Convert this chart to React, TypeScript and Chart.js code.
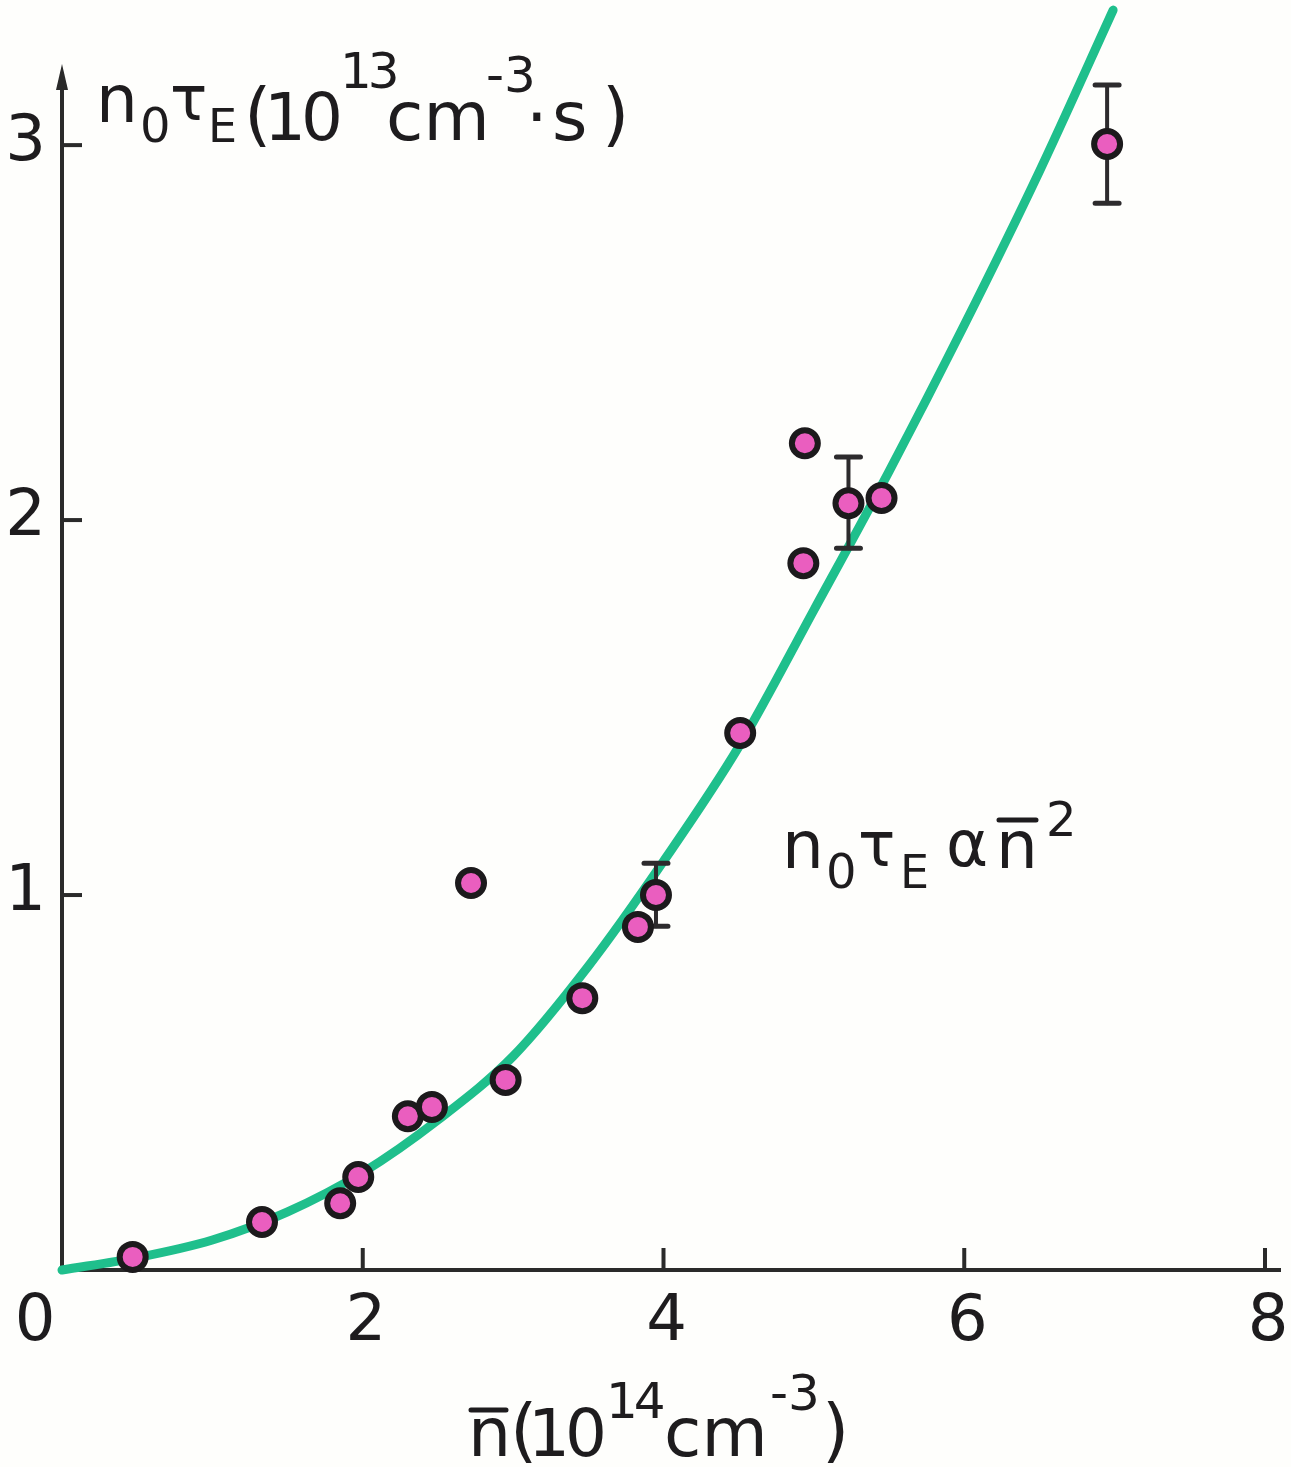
import React, { useEffect, useRef } from "react";
import { Chart, registerables } from "chart.js";

Chart.register(...registerables);

// Measured points: mean density n̄ (10^14 cm^-3) vs n0·τE (10^13 cm^-3·s)
const densityN = [0.47, 1.33, 1.85, 1.97, 2.30, 2.46, 2.72, 2.95, 3.46, 3.83, 3.95, 4.51, 4.93, 4.94, 5.23, 5.45, 6.95];
const confinement = [0.035, 0.128, 0.178, 0.248, 0.41, 0.435, 1.032, 0.507, 0.725, 0.915, 1.0, 1.432, 1.885, 2.205, 2.045, 2.059, 3.003];

// Error bars
const errorN = [3.95, 5.23, 6.95];
const errorLow = [0.917, 1.925, 2.845];
const errorHigh = [1.085, 2.168, 3.16];

// Hand-drawn fit curve  n0τE ∝ n̄²
const fitN = [0, 0.5, 1.0, 1.5, 2.0, 2.5, 3.0, 3.5, 4.0, 4.5, 5.0, 5.5, 6.0, 6.5, 6.99];
const fitY = [0, 0.033, 0.08, 0.155, 0.26, 0.40, 0.57, 0.81, 1.09, 1.395, 1.76, 2.13, 2.52, 2.93, 3.36];

const xTickValues = [0, 2, 4, 6, 8];
const yTickValues = [1, 2, 3];

const FONT = '"DejaVu Sans", "Liberation Sans", sans-serif';
const INK = "#1e1c1e";

type Part = { t: string; x: number; y: number; size: number; ls?: number };

function drawParts(ctx: CanvasRenderingContext2D, parts: Part[]) {
  ctx.fillStyle = INK;
  ctx.textAlign = "left";
  ctx.textBaseline = "alphabetic";
  for (const p of parts) {
    ctx.font = `${p.size}px ${FONT}`;
    (ctx as any).letterSpacing = `${p.ls ?? 0}px`;
    ctx.fillText(p.t, p.x, p.y);
  }
  (ctx as any).letterSpacing = "0px";
}

const decor = {
  id: "decor",
  beforeDraw(chart: any) {
    const ctx = chart.ctx as CanvasRenderingContext2D;
    ctx.save();
    ctx.fillStyle = "#fefefc";
    ctx.fillRect(0, 0, chart.width, chart.height);
    ctx.restore();
  },
  beforeDatasetsDraw(chart: any) {
    const ctx = chart.ctx as CanvasRenderingContext2D;
    const xs = chart.scales.x;
    const ys = chart.scales.y;
    const x0 = xs.getPixelForValue(0);
    const y0 = ys.getPixelForValue(0);
    ctx.save();
    ctx.strokeStyle = "#2a2a2a";
    ctx.lineWidth = 4;
    ctx.lineCap = "butt";
    // x axis
    ctx.beginPath();
    ctx.moveTo(x0 - 2, y0);
    ctx.lineTo(xs.getPixelForValue(8) + 16, y0);
    ctx.stroke();
    // y axis with arrow
    const tipY = chart.chartArea.top + 64;
    ctx.beginPath();
    ctx.moveTo(x0, y0 + 2);
    ctx.lineTo(x0, tipY + 14);
    ctx.stroke();
    ctx.fillStyle = "#2a2a2a";
    ctx.beginPath();
    ctx.moveTo(x0, tipY);
    ctx.lineTo(x0 - 6, tipY + 26);
    ctx.lineTo(x0 + 6, tipY + 26);
    ctx.closePath();
    ctx.fill();
    // ticks (drawn inward)
    for (const v of xTickValues) {
      if (v === 0) continue;
      const px = xs.getPixelForValue(v);
      ctx.beginPath();
      ctx.moveTo(px, y0);
      ctx.lineTo(px, y0 - 22);
      ctx.stroke();
    }
    for (const v of yTickValues) {
      const py = ys.getPixelForValue(v);
      ctx.beginPath();
      ctx.moveTo(x0, py);
      ctx.lineTo(x0 + 20, py);
      ctx.stroke();
    }
    ctx.restore();
  },
  afterDatasetDraw(chart: any, args: any) {
    if (args.index !== 1) return;
    const ctx = chart.ctx as CanvasRenderingContext2D;
    const xs = chart.scales.x;
    const ys = chart.scales.y;
    ctx.save();
    ctx.strokeStyle = "#2d2b2d";
    ctx.lineCap = "round";
    errorN.forEach((n, i) => {
      const px = xs.getPixelForValue(n);
      const lo = ys.getPixelForValue(errorLow[i]);
      const hi = ys.getPixelForValue(errorHigh[i]);
      ctx.lineWidth = 4;
      ctx.beginPath();
      ctx.moveTo(px, lo);
      ctx.lineTo(px, hi);
      ctx.stroke();
      ctx.lineWidth = 5;
      ctx.beginPath();
      ctx.moveTo(px - 12, lo);
      ctx.lineTo(px + 12, lo);
      ctx.moveTo(px - 12, hi);
      ctx.lineTo(px + 12, hi);
      ctx.stroke();
    });
    ctx.restore();
  },
  afterDraw(chart: any) {
    const ctx = chart.ctx as CanvasRenderingContext2D;
    const xs = chart.scales.x;
    const ys = chart.scales.y;
    const x0 = xs.getPixelForValue(0);
    const y0 = ys.getPixelForValue(0);
    ctx.save();
    ctx.fillStyle = INK;
    // tick labels
    ctx.font = `64px ${FONT}`;
    ctx.textBaseline = "alphabetic";
    ctx.textAlign = "center";
    for (const v of xTickValues) {
      const px = v === 0 ? x0 - 27 : xs.getPixelForValue(v) + 3;
      ctx.fillText(String(v), px, y0 + 70);
    }
    ctx.textAlign = "right";
    ctx.textBaseline = "middle";
    for (const v of yTickValues) {
      ctx.fillText(String(v), x0 - 16, ys.getPixelForValue(v) - 2);
    }
    // y-axis title  n0τE (10^13 cm^-3 · s)
    drawParts(ctx, [
      { t: "n", x: 96, y: 122, size: 66 },
      { t: "0", x: 140, y: 142, size: 48 },
      { t: "τ", x: 170, y: 120, size: 62 },
      { t: "E", x: 208, y: 142, size: 46 },
      { t: "(", x: 244, y: 138, size: 70 },
      { t: "10", x: 264, y: 140, size: 66, ls: -5 },
      { t: "13", x: 340, y: 88, size: 50, ls: -4 },
      { t: "cm", x: 386, y: 140, size: 68 },
      { t: "-3", x: 486, y: 92, size: 50 },
      { t: "·", x: 526, y: 140, size: 68 },
      { t: "s", x: 552, y: 140, size: 68 },
      { t: ")", x: 602, y: 138, size: 70 },
    ]);
    // x-axis title  n̄ (10^14 cm^-3)
    drawParts(ctx, [
      { t: "n", x: 468, y: 1456, size: 68 },
      { t: "(", x: 510, y: 1454, size: 70 },
      { t: "10", x: 528, y: 1456, size: 66, ls: -5 },
      { t: "14", x: 606, y: 1418, size: 50, ls: -4 },
      { t: "cm", x: 664, y: 1456, size: 68 },
      { t: "-3", x: 770, y: 1410, size: 50 },
      { t: ")", x: 822, y: 1454, size: 70 },
    ]);
    // annotation  n0τE α n̄²
    drawParts(ctx, [
      { t: "n", x: 782, y: 868, size: 66 },
      { t: "0", x: 826, y: 888, size: 48 },
      { t: "τ", x: 858, y: 866, size: 62 },
      { t: "E", x: 900, y: 888, size: 46 },
      { t: "α", x: 946, y: 866, size: 64 },
      { t: "n", x: 996, y: 868, size: 66 },
      { t: "2", x: 1046, y: 836, size: 48 },
    ]);
    ctx.strokeStyle = INK;
    ctx.lineWidth = 5;
    ctx.lineCap = "round";
    ctx.beginPath();
    ctx.moveTo(471, 1410);
    ctx.lineTo(506, 1410);
    ctx.moveTo(999, 820);
    ctx.lineTo(1036, 820);
    ctx.stroke();
    ctx.restore();
  },
};

export default function App() {
  const ref = useRef<HTMLCanvasElement | null>(null);
  useEffect(() => {
    if (!ref.current) return;
    const chart = new Chart(ref.current, {
      type: "scatter",
      data: {
        datasets: [
          {
            label: "measured",
            data: densityN.map((x, i) => ({ x, y: confinement[i] })),
            pointRadius: 13,
            pointBorderWidth: 6,
            pointBackgroundColor: "#ea5ebf",
            pointBorderColor: "#1c1a1c",
            showLine: false,
            clip: false,
          } as any,
          {
            label: "fit",
            data: fitN.map((x, i) => ({ x, y: fitY[i] })),
            showLine: true,
            pointRadius: 0,
            borderColor: "#1fbf8c",
            borderWidth: 9,
            borderCapStyle: "round",
            cubicInterpolationMode: "monotone",
            clip: false,
          } as any,
        ],
      },
      options: {
        animation: false,
        responsive: false,
        maintainAspectRatio: false,
        events: [],
        layout: { autoPadding: false, padding: { left: 62, right: 26, top: 0, bottom: 197 } },
        plugins: { legend: { display: false }, tooltip: { enabled: false } },
        scales: {
          x: { type: "linear", min: 0, max: 8, display: false },
          y: { type: "linear", min: 0, max: 3.387, display: false },
        },
      },
      plugins: [decor],
    });
    return () => chart.destroy();
  }, []);
  return (
    <div style={{ position: "absolute", left: 0, top: 0, width: 1291, height: 1467 }}>
      <canvas ref={ref} width={1291} height={1467} style={{ display: "block" }} />
    </div>
  );
}
